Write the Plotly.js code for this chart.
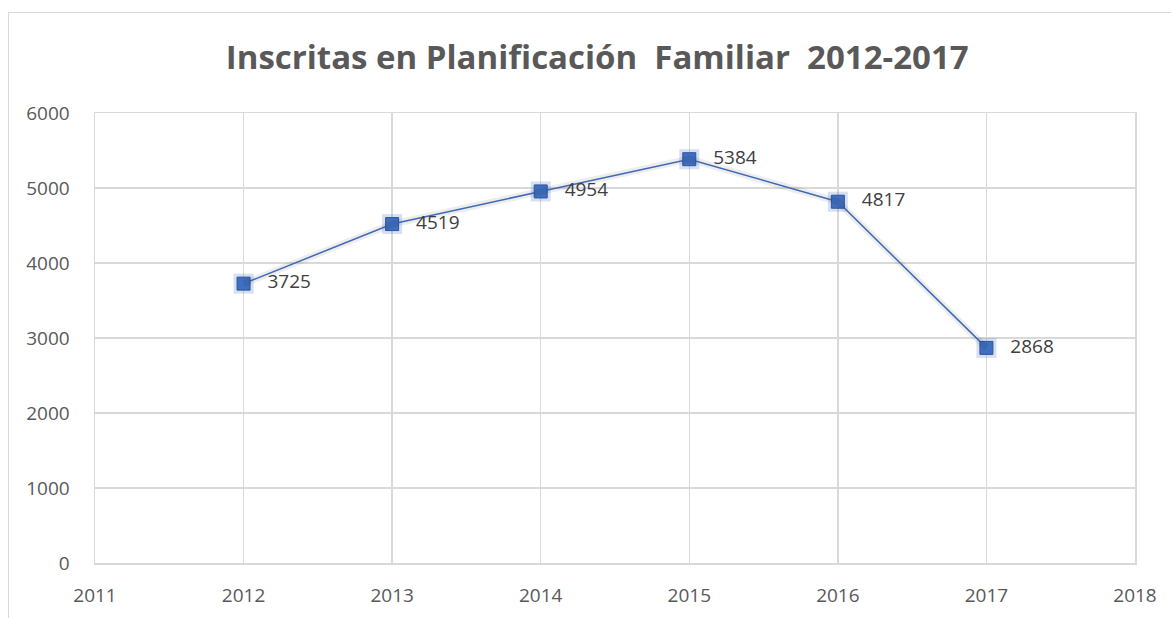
<!DOCTYPE html>
<html>
<head>
<meta charset="utf-8">
<script src="https://cdn.plot.ly/plotly-3.0.1.min.js"></script>
<style>
html,body{margin:0;padding:0;background:#fff;}
#frame{position:absolute;left:8px;top:12px;width:1170px;height:620px;border:1px solid #d9d9d9;box-sizing:border-box;}
#chart{position:absolute;left:0;top:0;width:1171px;height:618px;}
</style>
</head>
<body>
<div id="frame"></div>
<div id="chart"></div>
<script>
const years = [2012, 2013, 2014, 2015, 2016, 2017];
const inscritas = [3725, 4519, 4954, 5384, 4817, 2868];
const labels = inscritas.map(String);
const titleText = "Inscritas en Planificación  Familiar  2012-2017";

const blue = '#4472C4';
const traces = [
  {x: years, y: inscritas, type: 'scatter', mode: 'lines', xaxis: 'x2', yaxis: 'y2',
   line: {color: 'rgba(0,0,0,0.07)', width: 7}, hoverinfo: 'skip', showlegend: false},
  {x: years, y: inscritas, type: 'scatter', mode: 'markers',
   marker: {symbol: 'square', size: 20, color: 'rgba(68,114,196,0.22)', line: {width: 0}},
   hoverinfo: 'skip', showlegend: false},
  {x: years, y: inscritas, type: 'scatter', mode: 'lines+markers+text',
   text: labels, texttemplate: '   %{text}', textposition: 'middle right',
   textfont: {family: 'Open Sans, sans-serif', size: 19, color: '#404040'},
   line: {color: blue, width: 1.5},
   marker: {symbol: 'square', size: 13, color: '#3f6fc0', line: {color: '#2f5597', width: 1}},
   showlegend: false}
];
const axisFont = {family: 'Open Sans, sans-serif', size: 19, color: '#595959'};
const layout = {
  width: 1171, height: 618,
  margin: {l: 95, r: 36, t: 113, b: 55},
  paper_bgcolor: 'rgba(0,0,0,0)', plot_bgcolor: 'rgba(0,0,0,0)',
  title: {text: '<b>' + titleText + '</b>', x: 0.51, xanchor: 'center', y: 0.907, yanchor: 'middle',
          font: {family: 'Open Sans, sans-serif', size: 33, color: '#595959'}},
  xaxis: {range: [2011, 2018], dtick: 1, tick0: 2011, showgrid: true, gridcolor: '#d9d9d9', gridwidth: 1.5,
          showline: true, linecolor: '#d9d9d9', linewidth: 1.5, mirror: true, zeroline: false,
          ticks: '', tickfont: axisFont, ticklabelstandoff: 15},
  yaxis: {range: [0, 6000], dtick: 1000, showgrid: true, gridcolor: '#d9d9d9', gridwidth: 1.5,
          showline: true, linecolor: '#d9d9d9', linewidth: 1.5, mirror: true, zeroline: false,
          ticks: '', tickfont: axisFont, ticklabelstandoff: 20},
  xaxis2: {range: [2011, 2018], overlaying: 'x', visible: false, domain: [0.003, 1.003]},
  yaxis2: {range: [0, 6000], overlaying: 'y', visible: false, anchor: 'x2'},
  font: {family: 'Open Sans, sans-serif'}
};
Plotly.newPlot('chart', traces, layout, {displayModeBar: false, staticPlot: true});
</script>
</body>
</html>
